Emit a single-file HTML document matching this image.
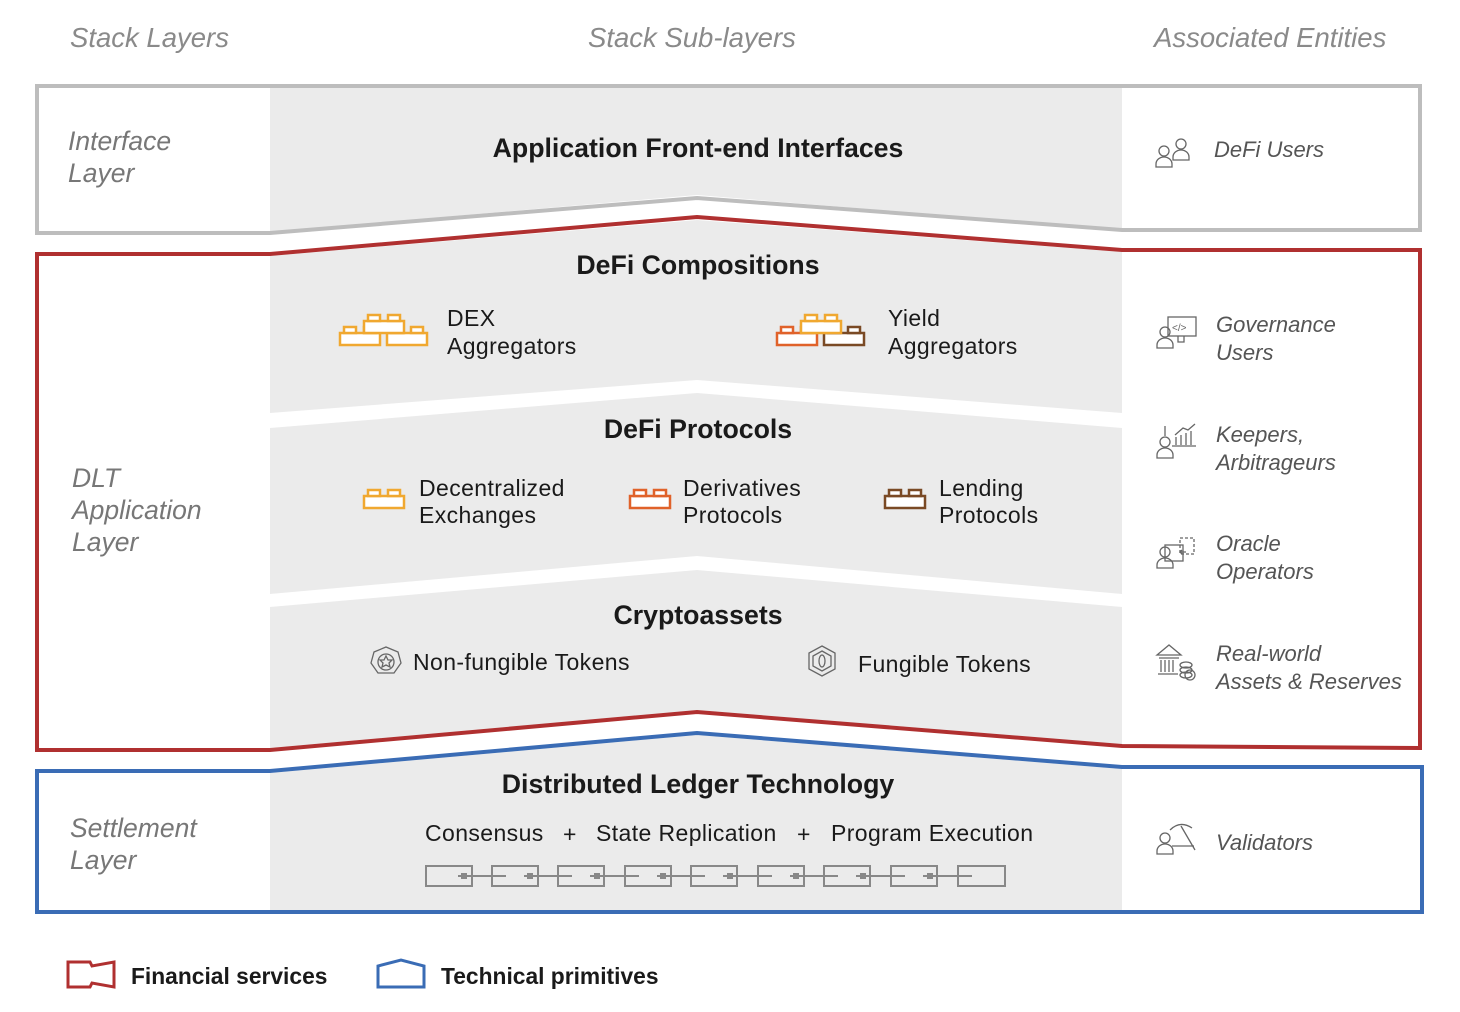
<!DOCTYPE html>
<html><head><meta charset="utf-8"><style>
html,body{margin:0;padding:0;background:#fff;}
svg{display:block;}
text{font-family:"Liberation Sans",Arial,sans-serif;}
.h{font-size:27.5px;font-style:italic;fill:#8a8a8a;}
.l{font-size:26.5px;font-style:italic;fill:#777;}
.t{font-size:26.7px;font-weight:bold;fill:#1a1a1a;}
.i{font-size:23px;letter-spacing:0.4px;fill:#1a1a1a;}
.e{font-size:22px;font-style:italic;fill:#555;}
.ic{fill:none;stroke:#666;stroke-width:1.3;}
</style></head><body>
<svg width="1460" height="1012" viewBox="0 0 1460 1012" xmlns="http://www.w3.org/2000/svg">
<defs>
<g id="brick"><rect x="0" y="6" width="40" height="12" fill="#fff" stroke-width="2.5"/><rect x="4" y="0" width="12" height="6" fill="#fff" stroke-width="2.5"/><rect x="24" y="0" width="12" height="6" fill="#fff" stroke-width="2.5"/></g>
<g id="person"><circle cx="8" cy="6" r="5"/><path d="M0 22 v-3 a8 7 0 0 1 16 0 v3 z"/></g>
</defs>
<text class="h" x="70" y="47">Stack Layers</text>
<text class="h" x="588" y="47">Stack Sub-layers</text>
<text class="h" x="1154" y="47">Associated Entities</text>

<polygon points="270,86 1122,86 1122,230 697,195 270,232" fill="#ebebeb"/>
<polygon points="270,256 697,220 1122,252 1122,413 697,380 270,413" fill="#ebebeb"/>
<polygon points="270,428 697,393 1122,428 1122,594 697,556 270,594" fill="#ebebeb"/>
<polygon points="270,607 697,570 1122,607 1122,744 697,710 270,748" fill="#ebebeb"/>
<polygon points="270,773 697,735 1122,769 1122,910 270,910" fill="#ebebeb"/>

<polygon points="37,86 1420,86 1420,230 1122,230 697,198 270,233 37,233" fill="none" stroke="#bdbdbd" stroke-width="4"/>
<polygon points="37,254 270,254 697,217 1122,250 1420,250 1420,748 1122,746 697,712 270,750 37,750" fill="none" stroke="#b03030" stroke-width="4"/>
<polygon points="37,771 270,771 697,733 1122,767 1422,767 1422,912 37,912" fill="none" stroke="#3a6cb5" stroke-width="4"/>

<text class="l" x="68" y="150">Interface</text><text class="l" x="68" y="182">Layer</text>
<text class="l" x="72" y="487">DLT</text><text class="l" x="72" y="519">Application</text><text class="l" x="72" y="551">Layer</text>
<text class="l" x="70" y="837">Settlement</text><text class="l" x="70" y="869">Layer</text>

<text class="t" x="698" y="157" text-anchor="middle">Application Front-end Interfaces</text>
<text class="t" x="698" y="274" text-anchor="middle">DeFi Compositions</text>
<text class="t" x="698" y="438" text-anchor="middle">DeFi Protocols</text>
<text class="t" x="698" y="624" text-anchor="middle">Cryptoassets</text>
<text class="t" x="698" y="793" text-anchor="middle">Distributed Ledger Technology</text>

<g stroke="#f0a830"><use href="#brick" x="340" y="327"/><use href="#brick" x="387" y="327"/><use href="#brick" x="364" y="315"/></g>
<text class="i" x="447" y="326">DEX</text><text class="i" x="447" y="354">Aggregators</text>
<use href="#brick" x="777" y="327" stroke="#e0622a"/><use href="#brick" x="824" y="327" stroke="#7a4a25"/><use href="#brick" x="801" y="315" stroke="#f0a830"/>
<text class="i" x="888" y="326">Yield</text><text class="i" x="888" y="354">Aggregators</text>

<use href="#brick" x="364" y="490" stroke="#f0a830"/>
<text class="i" x="419" y="496">Decentralized</text><text class="i" x="419" y="523">Exchanges</text>
<use href="#brick" x="630" y="490" stroke="#e0622a"/>
<text class="i" x="683" y="496">Derivatives</text><text class="i" x="683" y="523">Protocols</text>
<use href="#brick" x="885" y="490" stroke="#7a4a25"/>
<text class="i" x="939" y="496">Lending</text><text class="i" x="939" y="523">Protocols</text>

<g class="ic" stroke="#444"><polygon points="386,647 398,652 401,663 394,673 378,673 371,663 374,652"/><circle cx="386" cy="662" r="8"/><path d="M386 656 l2 4 4 0 -3 3 1 4 -4-2 -4 2 1-4 -3-3 4 0z"/></g>
<text class="i" x="413" y="670">Non-fungible Tokens</text>
<g class="ic" stroke="#444"><polygon points="822,646 835,653 835,669 822,676 809,669 809,653"/><polygon points="822,651 831,656 831,666 822,671 813,666 813,656"/><ellipse cx="822" cy="661" rx="3" ry="6"/></g>
<text class="i" x="858" y="672">Fungible Tokens</text>

<text class="i" x="425" y="841">Consensus</text>
<text class="i" x="563" y="842">+</text>
<text class="i" x="596" y="841">State Replication</text>
<text class="i" x="797" y="842">+</text>
<text class="i" x="831" y="841">Program Execution</text>
<g fill="none" stroke="#888" stroke-width="2">
<rect x="426" y="866" width="46" height="20"/><rect x="492" y="866" width="46" height="20"/><rect x="558" y="866" width="46" height="20"/><rect x="625" y="866" width="46" height="20"/><rect x="691" y="866" width="46" height="20"/><rect x="758" y="866" width="46" height="20"/><rect x="824" y="866" width="46" height="20"/><rect x="891" y="866" width="46" height="20"/><rect x="958" y="866" width="47" height="20"/>
<path d="M458 876 H506 M524 876 H572 M590 876 H639 M657 876 H705 M723 876 H772 M790 876 H838 M856 876 H905 M923 876 H972"/>
</g>
<g fill="#888"><rect x="461" y="873" width="6" height="6"/><rect x="527" y="873" width="6" height="6"/><rect x="594" y="873" width="6" height="6"/><rect x="660" y="873" width="6" height="6"/><rect x="727" y="873" width="6" height="6"/><rect x="793" y="873" width="6" height="6"/><rect x="860" y="873" width="6" height="6"/><rect x="927" y="873" width="6" height="6"/></g>

<g class="ic"><use href="#person" x="1156" y="145"/><use href="#person" x="1173" y="138"/></g>
<text class="e" x="1214" y="157">DeFi Users</text>
<g class="ic"><use href="#person" x="1157" y="326"/><rect x="1168" y="317" width="28" height="19"/><path d="M1178 336 v6 h6 v-6"/><text x="1172" y="331" font-size="10" fill="#666" stroke="none">&lt;/&gt;</text></g>
<text class="e" x="1216" y="332">Governance</text><text class="e" x="1216" y="360">Users</text>
<g class="ic"><use href="#person" x="1157" y="436"/><path d="M1165 436 v-10 M1176 445 v-8 M1181 445 v-10 M1186 445 v-12 M1191 445 v-14 M1175 435 l8-7 5 2 7-6 M1172 446 h24"/></g>
<text class="e" x="1216" y="442">Keepers,</text><text class="e" x="1216" y="470">Arbitrageurs</text>
<g class="ic"><use href="#person" x="1157" y="546"/><rect x="1165" y="545" width="18" height="16"/><rect x="1180" y="538" width="14" height="16" stroke-dasharray="3,2"/><path d="M1186 552 l-6 0 m2 -2 l-2 2 2 2"/></g>
<text class="e" x="1216" y="551">Oracle</text><text class="e" x="1216" y="579">Operators</text>
<g class="ic"><path d="M1157 655 l12 -10 12 10 z M1159 658 h20 M1161 660 v12 M1165 660 v12 M1169 660 v12 M1173 660 v12 M1158 674 h20"/><ellipse cx="1186" cy="665" rx="6" ry="3"/><ellipse cx="1186" cy="670" rx="6" ry="3"/><ellipse cx="1186" cy="675" rx="6" ry="3"/><circle cx="1190" cy="675" r="5"/></g>
<text class="e" x="1216" y="661">Real-world</text><text class="e" x="1216" y="689">Assets &amp; Reserves</text>
<g class="ic"><use href="#person" x="1157" y="832"/><path d="M1170 830 q10 -10 22 -2 M1181 826 l14 24 M1172 846 h22"/></g>
<text class="e" x="1216" y="850">Validators</text>

<polygon points="68,962 90,962 92,966 114,962 114,987 92,983 90,987 68,987" fill="none" stroke="#b03030" stroke-width="3"/>
<text x="131" y="984" font-size="22.8" font-weight="bold" fill="#1a1a1a">Financial services</text>
<polygon points="378,987 378,966 401,960 424,966 424,987" fill="none" stroke="#3a6cb5" stroke-width="3"/>
<text x="441" y="984" font-size="22.8" font-weight="bold" fill="#1a1a1a">Technical primitives</text>
</svg>
</body></html>
